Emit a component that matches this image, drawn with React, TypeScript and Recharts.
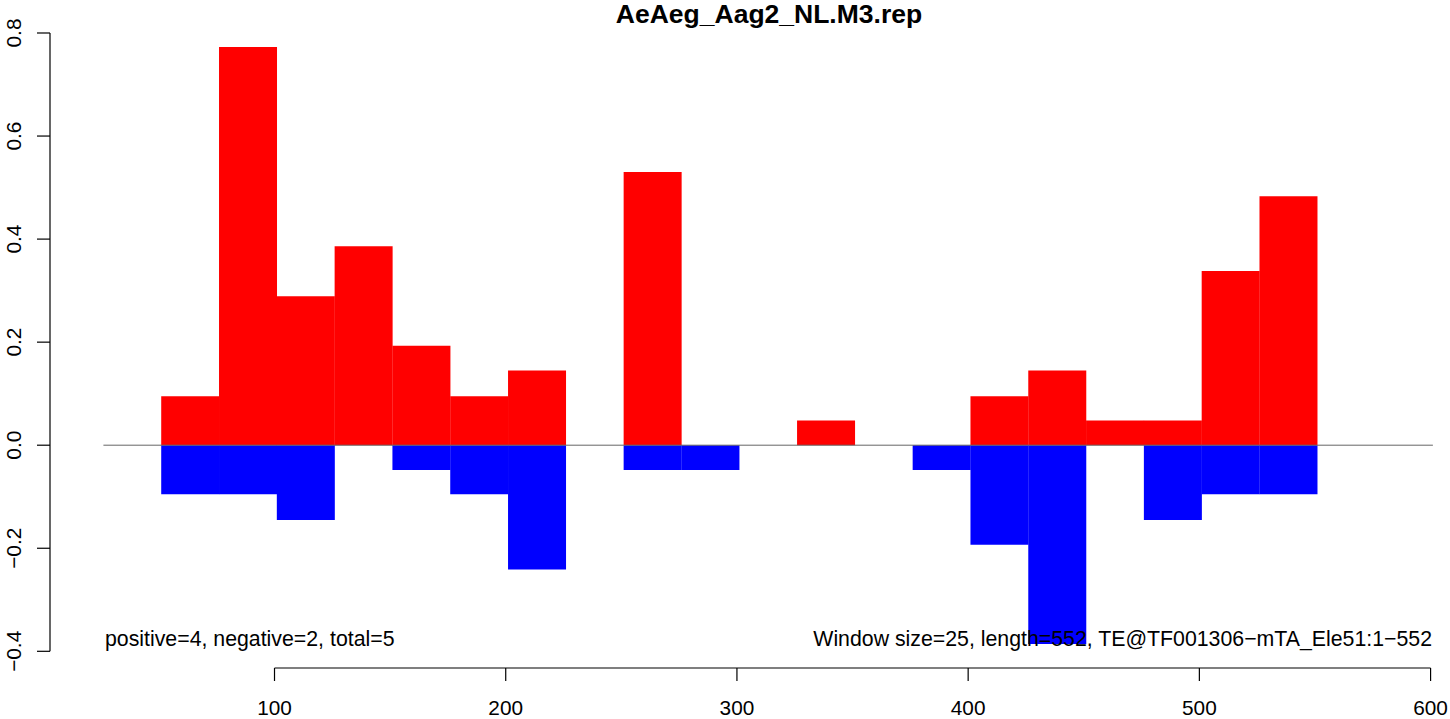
import React from 'react';
import { ComposedChart, Bar, XAxis, YAxis, ReferenceLine } from 'recharts';

// window midpoints (window size = 25, windows 51-76 ... 526-551)
const windowMid = [63.5, 88.5, 113.5, 138.5, 163.5, 188.5, 213.5, 238.5, 263.5, 288.5, 313.5, 338.5, 363.5, 388.5, 413.5, 438.5, 463.5, 488.5, 513.5, 538.5];
const positiveVals = [0.095, 0.773, 0.289, 0.386, 0.193, 0.095, 0.145, 0, 0.53, 0, 0, 0.048, 0, 0, 0.095, 0.145, 0.048, 0.048, 0.338, 0.483];
const negativeVals = [-0.095, -0.095, -0.145, 0, -0.048, -0.095, -0.241, 0, -0.048, -0.048, 0, 0, 0, -0.048, -0.193, -0.386, 0, -0.145, -0.095, -0.095];

const xTicks = [100, 200, 300, 400, 500, 600];
const yTicks = [-0.4, -0.2, 0, 0.2, 0.4, 0.6, 0.8];
const xDomain = [2.9, 607.1];
const yDomain = [-0.4324, 0.8194];
const zeroLineRange = [26, 601];

const title = 'AeAeg_Aag2_NL.M3.rep';
const leftNote = 'positive=4, negative=2, total=5';
const rightNote = 'Window size=25, length=552, TE@TF001306\u2212mTA_Ele51:1\u2212552';

const FONT = '"Liberation Sans", Arial, Helvetica, sans-serif';

const chartData = windowMid.map((x, i) => ({ x, pos: positiveVals[i], neg: negativeVals[i] }));

const fmtY = (v: number) => (v < 0 ? '\u2212' + Math.abs(v).toFixed(1) : v.toFixed(1));

const YTick = (props: any) => {
  const { y, payload } = props;
  return (
    <text x={21} y={y} transform={`rotate(-90, 21, ${y})`} textAnchor="middle" fontSize={20.8} fontFamily={FONT} fill="#000">
      {fmtY(payload.value)}
    </text>
  );
};

const XTick = (props: any) => {
  const { x, payload } = props;
  return (
    <text x={x} y={715} textAnchor="middle" fontSize={20.8} fontFamily={FONT} fill="#000">
      {payload.value}
    </text>
  );
};

export default function App() {
  return (
    <div style={{ position: 'absolute', left: 0, top: 0, width: 1450, height: 719, background: '#fff' }}>
      <ComposedChart
        width={1450}
        height={719}
        data={chartData}
        stackOffset="sign"
        barCategoryGap={0}
        barGap={0}
        margin={{ top: 23, right: 3, bottom: 0, left: 0 }}
      >
        <XAxis
          dataKey="x"
          type="number"
          domain={xDomain}
          allowDataOverflow
          ticks={xTicks}
          height={51}
          tickSize={13}
          axisLine={false}
          tickLine={{ stroke: '#000', strokeWidth: 1.2 }}
          tick={<XTick />}
          interval={0}
        />
        <YAxis
          type="number"
          domain={yDomain}
          allowDataOverflow
          ticks={yTicks}
          width={50}
          tickSize={13}
          axisLine={false}
          tickLine={{ stroke: '#000', strokeWidth: 1.2 }}
          tick={<YTick />}
          interval={0}
        />
        <ReferenceLine
          segment={[{ x: zeroLineRange[0], y: 0 }, { x: zeroLineRange[1], y: 0 }]}
          stroke="#666"
          strokeWidth={1}
        />
        <Bar dataKey="pos" stackId="s" fill="#ff0000" isAnimationActive={false} />
        <Bar dataKey="neg" stackId="s" fill="#0000ff" isAnimationActive={false} />
        <ReferenceLine
          segment={[{ x: xDomain[0], y: yTicks[0] }, { x: xDomain[0], y: yTicks[yTicks.length - 1] }]}
          stroke="#000"
          strokeWidth={1.2}
        />
        <ReferenceLine
          segment={[{ x: xTicks[0], y: yDomain[0] }, { x: xTicks[xTicks.length - 1], y: yDomain[0] }]}
          stroke="#000"
          strokeWidth={1.2}
        />
      </ComposedChart>
      <svg width={1450} height={719} style={{ position: 'absolute', left: 0, top: 0, pointerEvents: 'none' }}>
        <text x={769} y={22.5} textAnchor="middle" fontSize={26.5} fontWeight="bold" fontFamily={FONT} fill="#000">
          {title}
        </text>
        <text x={105} y={646} textAnchor="start" fontSize={21.3} fontFamily={FONT} fill="#000">
          {leftNote}
        </text>
        <text x={1432} y={646} textAnchor="end" fontSize={21.3} fontFamily={FONT} fill="#000">
          {rightNote}
        </text>
      </svg>
    </div>
  );
}
